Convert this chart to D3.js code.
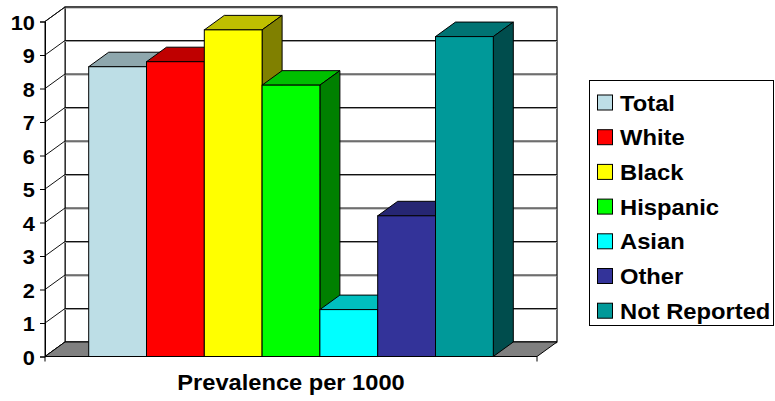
<!DOCTYPE html>
<html>
<head>
<meta charset="utf-8">
<script src="https://cdn.jsdelivr.net/npm/d3@7"></script>
<style>
  html, body { margin: 0; padding: 0; background: #fff; }
  svg { display: block; }
  text { font-family: "Liberation Sans", Arial, sans-serif; font-weight: bold; fill: #000; }
</style>
</head>
<body>
<svg id="chart" width="775" height="401"></svg>
<script>
// Prevalence per 1000, by group
const groups = ["Total", "White", "Black", "Hispanic", "Asian", "Other", "Not Reported"];
const prevalence = [8.65, 8.8, 9.75, 8.1, 1.4, 4.2, 9.55];
const frontColors = ["#BDDEE6", "#FF0000", "#FFFF00", "#00FF00", "#00FFFF", "#333399", "#009999"];
const yTicks = [0, 1, 2, 3, 4, 5, 6, 7, 8, 9, 10];
const categoryLabel = "Prevalence per 1000";

const svg = d3.select("#chart");
const stretch = 1.09; // slightly wide lettering

// Front plane of the 3D plot box and depth offset toward the back wall
const x0 = 45, x1 = 537;
const dx = 20, dy = -14.5;

const y = d3.scaleLinear().domain([0, 10]).range([356.5, 21.5]);
const x = d3.scaleBand().domain(groups).range([x0, x1]).paddingInner(0).paddingOuter(0.756);

const shade = (c, k) => { const r = d3.rgb(c); return d3.rgb(r.r * k, r.g * k, r.b * k).formatHex(); };
const poly = pts => "M" + pts.map(p => p.join(",")).join("L") + "Z";

// Back wall
svg.append("path")
  .attr("d", poly([[x0 + dx, y(10) + dy], [x1 + dx, y(10) + dy], [x1 + dx, y(0) + dy], [x0 + dx, y(0) + dy]]))
  .attr("fill", "#fff").attr("stroke", "#000").attr("stroke-width", 1.2);
// Left wall
svg.append("path")
  .attr("d", poly([[x0, y(0)], [x0, y(10)], [x0 + dx, y(10) + dy], [x0 + dx, y(0) + dy]]))
  .attr("fill", "#fff").attr("stroke", "#000").attr("stroke-width", 1);

// Gridlines on back wall and left wall
const grid = svg.append("g");
yTicks.forEach(t => {
  grid.append("line")
    .attr("x1", x0 + dx).attr("x2", x1 + dx)
    .attr("y1", y(t) + dy + 1).attr("y2", y(t) + dy + 1)
    .attr("stroke", "#9a9a9a").attr("stroke-width", 1);
  grid.append("line")
    .attr("x1", x0 + dx).attr("x2", x1 + dx)
    .attr("y1", y(t) + dy).attr("y2", y(t) + dy)
    .attr("stroke", "#111").attr("stroke-width", 1.2);
  grid.append("line")
    .attr("x1", x0).attr("x2", x0 + dx)
    .attr("y1", y(t)).attr("y2", y(t) + dy)
    .attr("stroke", "#111").attr("stroke-width", 1);
});

// Floor
svg.append("path")
  .attr("d", poly([[x0, y(0)], [x1, y(0)], [x1 + dx, y(0) + dy], [x0 + dx, y(0) + dy]]))
  .attr("fill", "#808080").attr("stroke", "#000").attr("stroke-width", 1);

// Bars: top, right side, then front face, left to right
const bars = svg.append("g");
groups.forEach((g, i) => {
  const bx0 = x(g), bx1 = x(g) + x.bandwidth();
  const yt = y(prevalence[i]), yb = y(0);
  const c = frontColors[i];
  const bar = bars.append("g");
  bar.append("path")
    .attr("d", poly([[bx0, yt], [bx1, yt], [bx1 + dx, yt + dy], [bx0 + dx, yt + dy]]))
    .attr("fill", shade(c, 0.75)).attr("stroke", "#000").attr("stroke-width", 1);
  bar.append("path")
    .attr("d", poly([[bx1, yt], [bx1 + dx, yt + dy], [bx1 + dx, yb + dy], [bx1, yb]]))
    .attr("fill", shade(c, 0.5)).attr("stroke", "#000").attr("stroke-width", 1);
  bar.append("rect")
    .attr("x", bx0).attr("y", yt).attr("width", bx1 - bx0).attr("height", yb - yt)
    .attr("fill", c).attr("stroke", "#000").attr("stroke-width", 1);
});

// Value axis on the front-left edge
const yAxis = svg.append("g")
  .attr("transform", `translate(${x0},0)`)
  .call(d3.axisLeft(y).tickValues(yTicks).tickSize(5).tickPadding(0).tickFormat(d3.format("d")));
yAxis.select(".domain").attr("stroke", "#000").attr("stroke-width", 1);
yAxis.selectAll(".tick line").attr("stroke", "#000");
yAxis.selectAll(".tick text")
  .attr("x", null).attr("dy", null)
  .attr("transform", `translate(-10,7.5) scale(${stretch},1)`)
  .attr("font-size", 20).attr("font-family", "Liberation Sans, Arial, sans-serif")
  .attr("font-weight", "bold").attr("fill", "#000");

// Category axis along the front floor edge
svg.append("line").attr("x1", x0).attr("x2", x1).attr("y1", y(0)).attr("y2", y(0))
  .attr("stroke", "#000").attr("stroke-width", 1.2);
[x0, x1].forEach(px => svg.append("line")
  .attr("x1", px).attr("x2", px).attr("y1", y(0)).attr("y2", y(0) + 5)
  .attr("stroke", "#000").attr("stroke-width", 1));
svg.append("text")
  .attr("transform", `translate(${(x0 + x1) / 2},390) scale(1.1,1)`)
  .attr("text-anchor", "middle").attr("font-size", 21.5)
  .text(categoryLabel);

// Legend
const legend = svg.append("g");
legend.append("rect")
  .attr("x", 589.5).attr("y", 80.5).attr("width", 184).attr("height", 245)
  .attr("fill", "#fff").attr("stroke", "#000").attr("stroke-width", 1);
groups.forEach((g, i) => {
  const cy = 102.5 + i * 34.7;
  legend.append("rect")
    .attr("x", 597.5).attr("y", cy - 7.5).attr("width", 15).attr("height", 15)
    .attr("fill", frontColors[i]).attr("stroke", "#000").attr("stroke-width", 1);
  legend.append("text")
    .attr("transform", `translate(620,${cy + 8}) scale(1.08,1)`)
    .attr("font-size", 22)
    .text(g);
});
</script>
</body>
</html>
